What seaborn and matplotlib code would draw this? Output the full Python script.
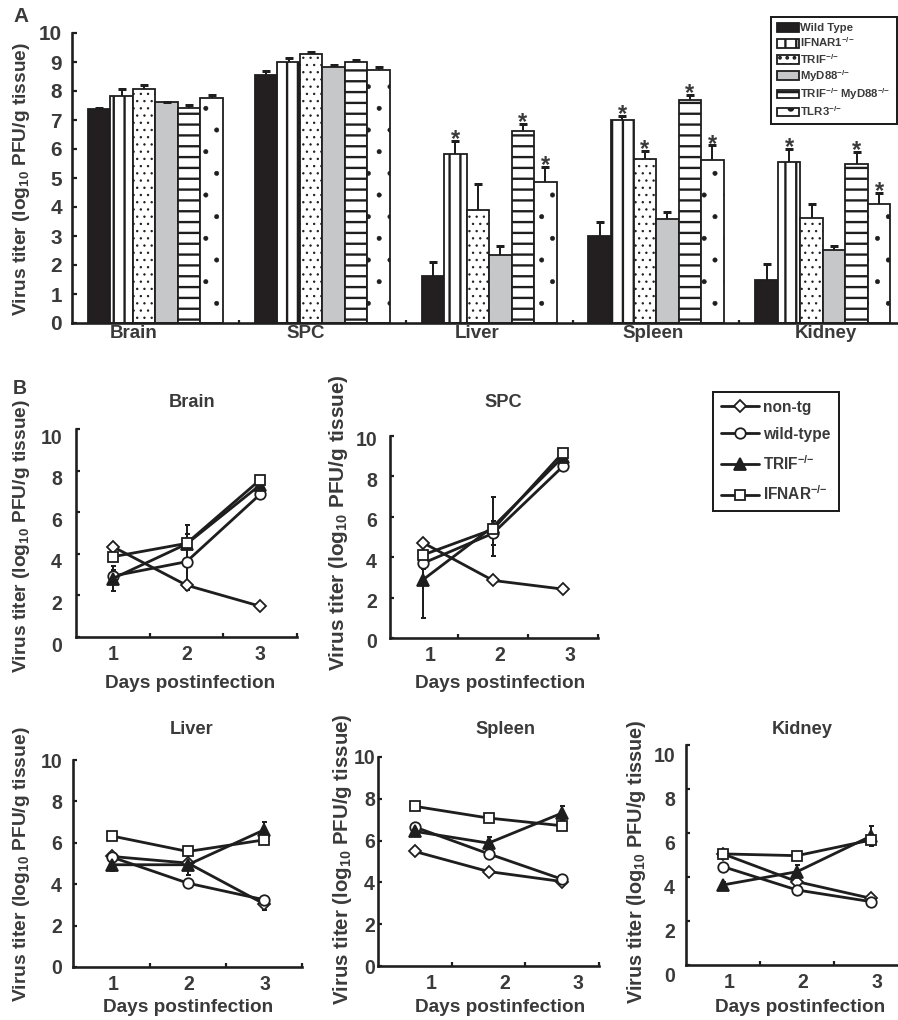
import numpy as np
import pandas as pd
import matplotlib
matplotlib.use("Agg")
import matplotlib.pyplot as plt
import matplotlib.transforms as mtransforms
import seaborn as sns

# ---------------- Panel A data ----------------
tissues = ["Brain", "SPC", "Liver", "Spleen", "Kidney"]
strains_a = ["Wild Type", "IFNAR1", "TRIF", "MyD88", "TRIF MyD88", "TLR3"]
KO = "$^{{-}/{-}}$"
legend_a = ["Wild Type", "IFNAR1" + KO, "TRIF" + KO, "MyD88" + KO,
            "TRIF" + KO + " MyD88" + KO, "TLR3" + KO]
wt_a      = [7.38, 8.56, 1.61, 3.01, 1.49]
ifnar1_a  = [7.82, 9.01, 5.83, 7.01, 5.54]
trif_a    = [8.07, 9.29, 3.91, 5.66, 3.62]
myd88_a   = [7.61, 8.83, 2.36, 3.59, 2.51]
trifmyd_a = [7.41, 9.01, 6.63, 7.69, 5.48]
tlr3_a    = [7.75, 8.74, 4.85, 5.61, 4.11]
wt_a_err      = [0.04, 0.12, 0.49, 0.46, 0.56]
ifnar1_a_err  = [0.25, 0.13, 0.46, 0.14, 0.47]
trif_a_err    = [0.15, 0.05, 0.89, 0.28, 0.49]
myd88_a_err   = [0.02, 0.07, 0.31, 0.23, 0.16]
trifmyd_a_err = [0.12, 0.07, 0.24, 0.18, 0.42]
tlr3_a_err    = [0.11, 0.09, 0.53, 0.52, 0.37]
wt_a_sig      = [0, 0, 0, 0, 0]
ifnar1_a_sig  = [0, 0, 1, 1, 1]
trif_a_sig    = [0, 0, 0, 1, 0]
myd88_a_sig   = [0, 0, 0, 0, 0]
trifmyd_a_sig = [0, 0, 1, 1, 1]
tlr3_a_sig    = [0, 0, 1, 1, 1]

# ---------------- Panel B data ----------------
days = [1, 2, 3]
panels_b = ["Brain", "SPC", "Liver", "Spleen", "Kidney"]
labels_b = ["non-tg", "wild-type", "TRIF" + KO, "IFNAR" + KO]
# each list: Brain, SPC, Liver, Spleen, Kidney
nontg_b = [[4.34, 2.49, 1.48], [4.72, 2.85, 2.42], [5.34, 5.02, 3.05],
           [5.48, 4.52, 4.04], [5.05, 3.79, 3.03]]
wt_b    = [[2.93, 3.62, 6.86], [3.70, 5.18, 8.50], [5.31, 4.05, 3.25],
           [6.65, 5.37, 4.15], [4.47, 3.41, 2.88]]
trif_b  = [[2.81, 4.47, 7.31], [2.88, 5.51, 8.96], [4.94, 4.94, 6.62],
           [6.44, 5.88, 7.32], [3.64, 4.24, 5.86]]
ifnar_b = [[3.86, 4.50, 7.56], [4.11, 5.38, 9.18], [6.33, 5.58, 6.14],
           [7.64, 7.08, 6.71], [5.05, 4.97, 5.68]]
nontg_b_err = [[0.10, 0.15, 0.05], [0.05, 0.05, 0.05], [0.10, 0.10, 0.30],
               [0.05, 0.05, 0.05], [0.05, 0.05, 0.05]]
wt_b_err    = [[0.30, 1.35, 0.10], [0.30, 0.60, 0.10], [0.15, 0.15, 0.20],
               [0.10, 0.15, 0.05], [0.10, 0.10, 0.05]]
trif_b_err  = [[0.60, 0.90, 0.15], [1.90, 1.45, 0.15], [0.30, 0.50, 0.40],
               [0.15, 0.30, 0.35], [0.15, 0.30, 0.45]]
ifnar_b_err = [[0.10, 0.10, 0.10], [0.10, 0.10, 0.10], [0.10, 0.15, 0.15],
               [0.10, 0.20, 0.10], [0.10, 0.10, 0.20]]

# ---------------- style ----------------
DPI = 130
W, H = 898, 1020
TXT = "#3a3a3a"
EDGE = "#1e1e1e"


def fx(x):
    return x / W


def fy(y):
    return 1 - y / H


def pt(v):  # pixels -> points
    return v * 72.0 / DPI


sns.set_theme(style="white")
plt.rcParams["font.family"] = ["Liberation Sans", "DejaVu Sans"]
plt.rcParams["font.weight"] = "bold"
plt.rcParams["mathtext.fontset"] = "custom"
for k in ["rm", "it", "bf", "sf"]:
    plt.rcParams["mathtext." + k] = "Liberation Sans:bold"
plt.rcParams["text.color"] = TXT
plt.rcParams["hatch.linewidth"] = 1.3
plt.rcParams["hatch.color"] = EDGE

fig = plt.figure(figsize=(W / DPI, H / DPI), dpi=DPI)
fig.patch.set_facecolor("white")

# ================= Panel A =================
rows = []
vals_a = [wt_a, ifnar1_a, trif_a, myd88_a, trifmyd_a, tlr3_a]
errs_a = [wt_a_err, ifnar1_a_err, trif_a_err, myd88_a_err, trifmyd_a_err, tlr3_a_err]
sigs_a = [wt_a_sig, ifnar1_a_sig, trif_a_sig, myd88_a_sig, trifmyd_a_sig, tlr3_a_sig]
for s, vals in zip(strains_a, vals_a):
    for t, v in zip(tissues, vals):
        rows.append({"tissue": t, "strain": s, "titer": v})
df_a = pd.DataFrame(rows)

styles_a = [("#231f20", "", None), ("white", "||", None), ("white", "...", 0.5),
            ("#c6c7c9", "", None), ("white", "--", None), ("white", ".", 0.3)]
pal_a = {s: st[0] for s, st in zip(strains_a, styles_a)}

ax_a = fig.add_axes([fx(72), fy(323), fx(898) - fx(72), (323 - 33) / H])
sns.barplot(data=df_a, x="tissue", y="titer", hue="strain", order=tissues,
            hue_order=strains_a, palette=pal_a, width=0.81, errorbar=None,
            legend=False, saturation=1, ax=ax_a)
bar_conts = list(ax_a.containers)

for i, cont in enumerate(bar_conts):
    fc, hatch, hlw = styles_a[i]
    for p in cont:
        p.set_facecolor(fc)
        p.set_edgecolor(EDGE)
        p.set_linewidth(1.0)
        if hatch:
            p.set_hatch(hatch)
            if hlw is not None and hasattr(p, "set_hatch_linewidth"):
                p.set_hatch_linewidth(hlw)
    xs = [p.get_x() + p.get_width() / 2 for p in cont]
    tops = [p.get_height() for p in cont]
    eb = ax_a.errorbar(xs, tops, yerr=[np.zeros(len(xs)), errs_a[i]], fmt="none",
                       ecolor=EDGE, elinewidth=pt(2), capsize=pt(4), capthick=pt(3),
                       zorder=3)
    eb[1][0].set_visible(False)
    for x, t, e, s in zip(xs, tops, errs_a[i], sigs_a[i]):
        if s:
            ax_a.annotate("*", (x, t + e), xytext=(0, -3), textcoords="offset points",
                          ha="center", va="baseline", fontsize=13, color=TXT)

ax_a.set_xlim(-0.5, 4.45)
ax_a.set_ylim(0, 10)
ax_a.set_yticks(range(11))
ax_a.set_xticks([-0.13, 0.9, 1.93, 2.98, 4.02], tissues)
ax_a.set_xticks([0.5, 1.5, 2.5, 3.5], minor=True)
ax_a.set_xlabel("")
ax_a.set_ylabel("")
ax_a.tick_params(axis="y", direction="in", length=pt(5), width=pt(2.2), pad=pt(10),
                 labelsize=11.5, color=EDGE, labelcolor=TXT, left=True)
ax_a.tick_params(axis="x", which="major", length=0, pad=pt(2), labelsize=10.4,
                 labelcolor=TXT)
ax_a.tick_params(axis="x", which="minor", direction="in", length=pt(3),
                 width=pt(2.2), color=EDGE, bottom=True)
for sp in ["top", "right"]:
    ax_a.spines[sp].set_visible(False)
for sp in ["left", "bottom"]:
    ax_a.spines[sp].set_linewidth(pt(2.6))
    ax_a.spines[sp].set_color(EDGE)

fig.text(fx(22), fy(179), "Virus titer (log$_{10}$ PFU/g tissue)", rotation=90,
         ha="center", va="center", fontsize=10.6)
fig.text(fx(21), fy(17), "A", ha="center", va="center", fontsize=11.5)

handles_a = [cont[0] for cont in bar_conts]
leg_a = ax_a.legend(handles_a, legend_a, loc="upper left",
                    bbox_to_anchor=(fx(771), fy(17)), bbox_transform=fig.transFigure,
                    borderaxespad=0, frameon=True, fancybox=False, edgecolor=EDGE,
                    framealpha=1, fontsize=6.3, handlelength=1.9, handleheight=0.75,
                    handletextpad=0.1, labelspacing=0.2, borderpad=0.55)
leg_a.get_frame().set_linewidth(pt(2))

# ================= Panel B =================
# (x0, x1, ytop, ybottom, xmin, xmax, ylabel pad px, ytick dy px, xtick dx px)
layout_b = [
    (76, 297, 429, 637, 0.5, 3.5, 14, 7, 0),
    (390, 598, 436, 638, 0.53, 3.34, 13, 3, 7),
    (73, 302, 760, 967, 0.49, 3.5, 11, 0, 1),
    (378, 599, 757, 966, 0.5, 3.49, 3, 0, 16),
    (686, 908, 745, 965, 0.5, 3.5, 11, 10, 6),
]
title_pos = [(192, 403), (503, 403), (192, 730), (505, 730), (802, 730)]
xlab_pos = [(190, 684), (500, 684), (188, 1007), (500, 1007), (800, 1007)]
ylab_pos = [(22, 536, 10.6), (338, 523, 11.5), (22, 864, 10.7), (342, 859, 11.3),
            (637, 862, 11.0)]

series_vals = [nontg_b, wt_b, trif_b, ifnar_b]
series_errs = [nontg_b_err, wt_b_err, trif_b_err, ifnar_b_err]
series_style = [("D", "white", 4.6), ("o", "white", 5.8), ("^", EDGE, 6.2),
                ("s", "white", 5.6)]

axes_b = []
for j, name in enumerate(panels_b):
    x0, x1, y0, y1, xmn, xmx, ypad, ydy, xdx = layout_b[j]
    ax = fig.add_axes([fx(x0), fy(y1), (x1 - x0) / W, (y1 - y0) / H])
    axes_b.append(ax)
    for lab, vals, errs, (mk, mfc, ms) in zip(labels_b, series_vals, series_errs,
                                               series_style):
        ax.errorbar(days, vals[j], yerr=errs[j], fmt="none", ecolor=EDGE,
                    elinewidth=pt(2), capsize=pt(2.5), capthick=pt(2), zorder=2)
        sns.lineplot(x=days, y=vals[j], ax=ax, color=EDGE, linewidth=pt(2.8),
                     marker=mk, markersize=ms, markerfacecolor=mfc,
                     markeredgecolor=EDGE, markeredgewidth=pt(1.8), label=lab,
                     legend=False, errorbar=None, zorder=3, clip_on=False)
    ax.set_xlim(xmn, xmx)
    ax.set_ylim(0, 10)
    ax.set_xlabel("")
    ax.set_ylabel("")
    ax.set_xticks(days, ["1", "2", "3"])
    ax.set_xticks([1.5, 2.5, 3.5], minor=True)
    ax.set_yticks([0, 2, 4, 6, 8, 10])
    ax.tick_params(axis="x", which="major", direction="in", length=0, pad=pt(8),
                   labelsize=10.8, labelcolor=TXT)
    ax.tick_params(axis="x", which="minor", direction="in", length=pt(4),
                   width=pt(2.2), color=EDGE, bottom=True)
    ax.tick_params(axis="y", direction="in", length=pt(4), width=pt(2.2),
                   pad=pt(ypad), labelsize=10.8, color=EDGE, labelcolor=TXT,
                   left=True)
    for sp in ["top", "right"]:
        ax.spines[sp].set_visible(False)
    for sp in ["left", "bottom"]:
        ax.spines[sp].set_linewidth(pt(2.6))
        ax.spines[sp].set_color(EDGE)
    if ydy:
        off = mtransforms.ScaledTranslation(0, -ydy / DPI, fig.dpi_scale_trans)
        for t in ax.get_yticklabels():
            t.set_transform(t.get_transform() + off)
    if xdx:
        off = mtransforms.ScaledTranslation(xdx / DPI, 0, fig.dpi_scale_trans)
        for t in ax.get_xticklabels():
            t.set_transform(t.get_transform() + off)
    tx, ty = title_pos[j]
    fig.text(fx(tx), fy(ty), name, ha="center", va="center", fontsize=10.1)
    lx, ly = xlab_pos[j]
    fig.text(fx(lx), fy(ly), "Days postinfection", ha="center", va="center",
             fontsize=10.5)
    vx, vy, vs = ylab_pos[j]
    fig.text(fx(vx), fy(vy), "Virus titer (log$_{10}$ PFU/g tissue)", rotation=90,
             ha="center", va="center", fontsize=vs)

fig.text(fx(20), fy(389), "B", ha="center", va="center", fontsize=10.8)

hB, lB = axes_b[2].get_legend_handles_labels()
leg_b = fig.legend(hB, lB, loc="upper left", bbox_to_anchor=(fx(713), fy(392)),
                   frameon=True, fancybox=False, edgecolor=EDGE, framealpha=1,
                   fontsize=8.6, handlelength=2.45, handletextpad=0.3,
                   labelspacing=0.78, borderpad=0.5, borderaxespad=0)
leg_b.get_frame().set_linewidth(pt(2))

fig.savefig("out.png", dpi=DPI, facecolor="white")
